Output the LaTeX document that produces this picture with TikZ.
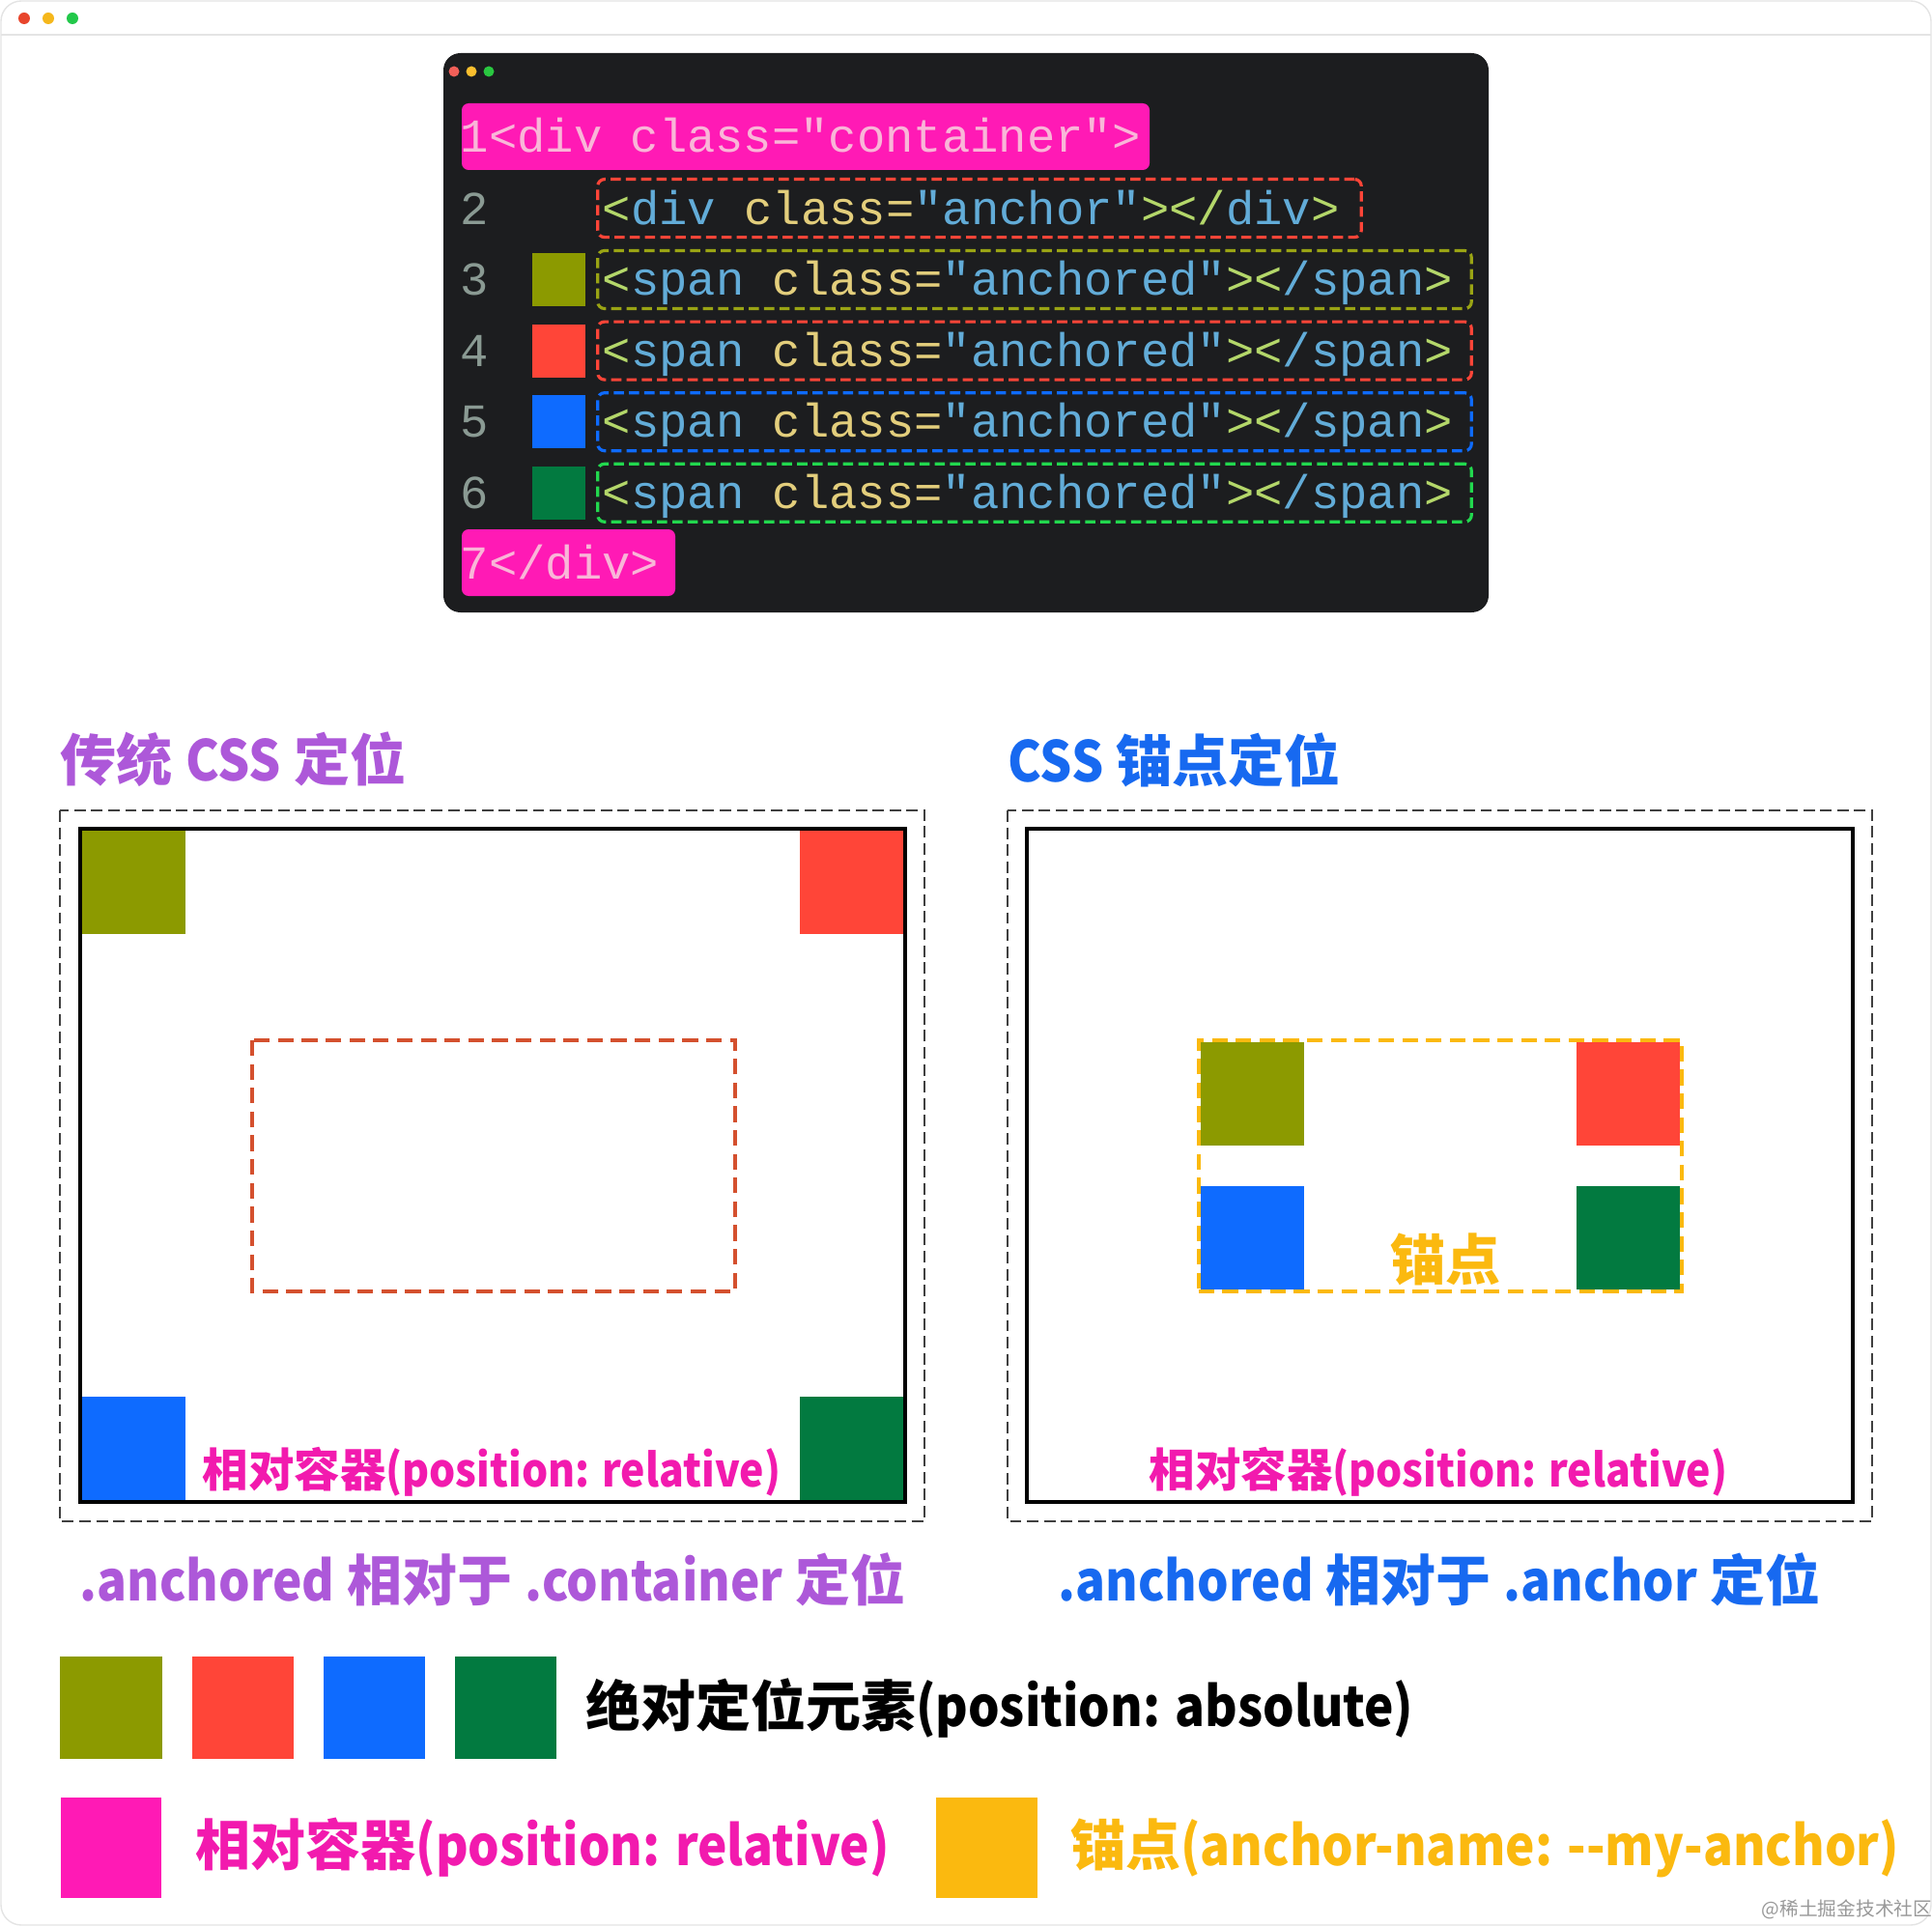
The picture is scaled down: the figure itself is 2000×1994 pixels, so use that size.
\documentclass[tikz,border=0pt]{standalone}
\usepackage{fontspec}
\setmainfont{Noto Sans CJK SC}
\newfontfamily\latnarrow[FakeStretch=0.9]{Noto Sans CJK SC}
\newfontfamily\codefont{Liberation Mono}
\usepackage{tikz}
\usetikzlibrary{positioning}
\usepackage{xcolor}
\definecolor{winline}{HTML}{E4E4E4}
\definecolor{dotR}{HTML}{E8452C}
\definecolor{dotY}{HTML}{F5B71B}
\definecolor{dotG}{HTML}{22C84A}
\definecolor{cdotR}{HTML}{F25F58}
\definecolor{cdotY}{HTML}{FBBE2E}
\definecolor{cdotG}{HTML}{29C740}
\definecolor{codebg}{HTML}{1C1D1F}
\definecolor{lnum}{HTML}{8A9A93}
\definecolor{codelt}{HTML}{F9B6D8}
\definecolor{tagblue}{HTML}{62ACD8}
\definecolor{pungreen}{HTML}{B4D76A}
\definecolor{attkhaki}{HTML}{E3CE7C}
\definecolor{cPink}{HTML}{FF1AB5}
\definecolor{cPinkTxt}{HTML}{F21AAE}
\definecolor{cOlive}{HTML}{8C9A00}
\definecolor{cOliveLn}{HTML}{9AA414}
\definecolor{cRed}{HTML}{FF4538}
\definecolor{cBlue}{HTML}{0E6BFF}
\definecolor{cGreen}{HTML}{027A40}
\definecolor{cLime}{HTML}{22D84E}
\definecolor{cYellow}{HTML}{FBB90F}
\definecolor{cPurple}{HTML}{AD58D9}
\definecolor{cTitleBlue}{HTML}{1769F0}
\definecolor{cOrange}{HTML}{D4502E}
\newcommand{\cdTag}[1]{\textcolor{tagblue}{#1}}
\newcommand{\cdPun}[1]{\textcolor{pungreen}{#1}}
\newcommand{\cdAtt}[1]{\textcolor{attkhaki}{#1}}
\newcommand{\narw}[1]{{\latnarrow #1}}
\tikzstyle{chip} = [rectangle, minimum size=1.07cm, inner sep=0pt, outer sep=0pt]
\tikzstyle{codeline} = [inner sep=0pt, anchor=base west, font=\codefont\fontsize{13.9}{15}\selectfont, text=tagblue]
\tikzstyle{linebox} = [rectangle, rounded corners=2pt, line width=0.9pt, dash pattern=on 3pt off 1.5pt, minimum height=0.6cm, inner sep=0pt]
\tikzstyle{frame} = [rectangle, draw=black, line width=1.2pt, inner sep=0pt, outer sep=0pt, minimum width=8.54cm, minimum height=6.97cm]
\tikzstyle{outerbox} = [draw=black!75, line width=0.45pt, dash pattern=on 3.4pt off 1.6pt]
\tikzstyle{anchorbox} = [line width=1.1pt, dash pattern=on 4.6pt off 2.4pt]
\tikzstyle{title} = [inner sep=0pt, anchor=west, font=\bfseries\fontsize{16.5}{18}\selectfont]
\tikzstyle{caption} = [inner sep=0pt, font=\bfseries\fontsize{16.2}{18}\selectfont]
\tikzstyle{relabel} = [inner sep=0pt, text=cPinkTxt, font=\bfseries\fontsize{13.5}{15}\selectfont]
\tikzstyle{legend} = [inner sep=0pt, font=\bfseries\fontsize{16.2}{18}\selectfont]

\begin{document}
\begin{tikzpicture}[x=0.01cm, y=-0.01cm]
    \useasboundingbox (0,0) rectangle (2000,1994);
    % window
    \draw[winline, fill=white, rounded corners=6pt] (1,1) rectangle (1999,1993);
    \draw[winline] (1,36) -- (1999,36);
    \fill[dotR] (25,19) circle (6);
    \fill[dotY] (50,19) circle (6);
    \fill[dotG] (75,19) circle (6);

    % code window
    \fill[codebg, rounded corners=5pt] (459,55) rectangle (1541,634);
    \fill[cdotR] (470,74) circle (5.5);
    \fill[cdotY] (488,74) circle (5.5);
    \fill[cdotG] (506,74) circle (5.5);
    \fill[cPink, rounded corners=2pt] (478,107) rectangle (1190,176);
    \fill[cPink, rounded corners=2pt] (478,548) rectangle (699,617);
    \node (code1) [codeline, text=codelt] at (476,158) {1<div class="container">};
    \node (code7) [codeline, text=codelt] at (476,599) {7</div>};

    \node (num2) [codeline, text=lnum] at (476,232) {2};
    \node (box2) [linebox, draw=cRed, minimum width=7.9cm] at (1014,215.6) {};
    \node (code2) [codeline] at (623,232) {\cdPun{<}\cdTag{div} \cdAtt{class=}\cdTag{"anchor"}\cdPun{></}\cdTag{div}\cdPun{>}};

    \foreach \n/\bc/\sc in {3/cOliveLn/cOlive, 4/cRed/cRed, 5/cBlue/cBlue, 6/cLime/cGreen} {
        \pgfmathsetmacro\yc{289.5+(\n-3)*73.6}
        \node (num\n) [codeline, text=lnum] at (476,\yc+16) {\n};
        \node (sq\n) [chip, fill=\sc, minimum size=0.55cm] at (578.5,\yc) {};
        \node (box\n) [linebox, draw=\bc, minimum width=9.04cm] at (1071,\yc) {};
        \node (code\n) [codeline] at (623,\yc+16) {\cdPun{<}\cdTag{span} \cdAtt{class=}\cdTag{"anchored"}\cdPun{><}\cdTag{/span}\cdPun{>}};
    }

    % traditional positioning
    \node (ttlL) [title, text=cPurple] at (62,786) {传统 \narw{CSS} 定位};
    \draw[outerbox] (62,839) rectangle (957,1575);
    \node (contL) [frame] at (510,1206.5) {};
    \node (olL) [chip, fill=cOlive, anchor=north west] at (85,860) {};
    \node (reL) [chip, fill=cRed, anchor=north east] at (935,860) {};
    \node (blL) [chip, fill=cBlue, anchor=south west] at (85,1553) {};
    \node (grL) [chip, fill=cGreen, anchor=south east] at (935,1553) {};
    \draw[anchorbox, cOrange] (261,1077) rectangle (761,1337);
    \node (relL) [relabel] at (509,1524) {相对容器\narw{(position: relative)}};
    \node (capL) [caption, text=cPurple] at (510,1635) {\narw{.anchored} 相对于 \narw{.container} 定位};

    % anchor positioning
    \node (ttlR) [title, text=cTitleBlue] at (1043,787) {\narw{CSS} 锚点定位};
    \draw[outerbox] (1043,839) rectangle (1938,1575);
    \node (contR) [frame] at (1490.5,1206.5) {};
    \node (anc) [rectangle, anchorbox, draw=cYellow, minimum width=5cm, minimum height=2.6cm] at (1491,1207) {};
    \node (olR) [chip, fill=cOlive, anchor=north west] at (1243,1079) {};
    \node (reR) [chip, fill=cRed, anchor=north east] at (1739,1079) {};
    \node (blR) [chip, fill=cBlue, anchor=south west] at (1243,1335) {};
    \node (grR) [chip, fill=cGreen, anchor=south east] at (1739,1335) {};
    \node (ancTxt) [caption, text=cYellow] at (1496,1304) {锚点};
    \node (relR) [relabel] at (1489,1524) {相对容器\narw{(position: relative)}};
    \node (capR) [caption, text=cTitleBlue] at (1490,1635) {\narw{.anchored} 相对于 \narw{.anchor} 定位};

    % legend
    \node (lgO) [chip, fill=cOlive, minimum size=1.05cm] at (115,1768) {};
    \node (lgR) [chip, fill=cRed, minimum size=1.05cm, right=0.31cm of lgO] {};
    \node (lgB) [chip, fill=cBlue, minimum size=1.05cm, right=0.31cm of lgR] {};
    \node (lgG) [chip, fill=cGreen, minimum size=1.05cm, right=0.31cm of lgB] {};
    \node (lgAbs) [legend, right=0.3cm of lgG] {绝对定位元素\narw{(position: absolute)}};
    \node (lgP) [chip, fill=cPink, minimum size=1.04cm] at (115,1913) {};
    \node (lgRel) [legend, text=cPinkTxt, right=0.35cm of lgP] {相对容器\narw{(position: relative)}};
    \node (lgY) [chip, fill=cYellow, minimum size=1.04cm] at (1021.5,1913) {};
    \node (lgAnc) [legend, text=cYellow, right=0.34cm of lgY] {锚点\narw{(anchor-name: \mbox{-}\mbox{-}my-anchor)}};

    \node (wm) [inner sep=0pt, text=black!40, font=\fontsize{5.6}{6}\selectfont] at (1912,1977) {@稀土掘金技术社区};
\end{tikzpicture}
\end{document}
